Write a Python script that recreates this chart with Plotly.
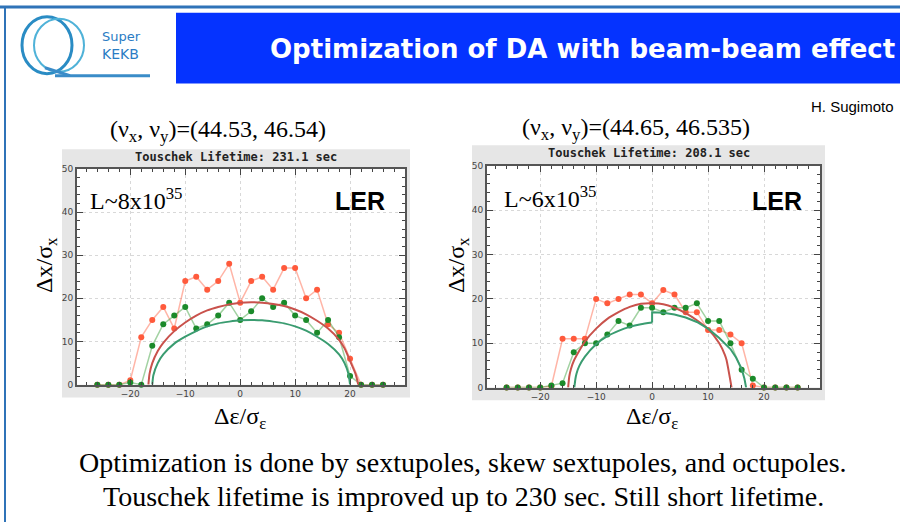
import plotly.graph_objects as go

W, H = 900, 527

# ---------------- data ----------------
pts_x = [-26, -24, -22, -20, -18, -16, -14, -12, -10, -8, -6, -4, -2, 0,
         2, 4, 6, 8, 10, 12, 14, 16, 18, 20, 22, 24, 26]

left_red = [0, 0, 0, 1, 11, 15, 18, 13, 24, 25, 22, 24, 28, 19,
            24, 25, 22, 27, 27, 20, 22, 14, 12, 6, 0, 0, 0]
left_green = [0, 0, 0, 0.5, 0, 9, 14, 16, 18, 13, 14, 16, 19, 15,
              17, 20, 18, 19, 16, 15, 12, 15, 11, 2, 0, 0, 0]

right_red = [0, 0, 0, 0, 0.3, 11, 11, 11, 20, 19, 20, 21, 21, 19,
             22, 21, 17, 17, 13, 13, 12, 10, 0.5, 0, 0, 0, 0]
right_green = [0, 0, 0, 0, 0.5, 1, 8, 10, 10, 12, 15, 14, 18, 18,
               17, 18, 18, 19, 15, 15, 10, 4, 2, 0, 0, 0, 0]

# fitted curves
lc_red_x = [-16.7, -16.5, -16, -15, -14, -12, -10, -8, -6, -4, -2, 0, 2, 4, 6, 8,
            10, 12, 14, 16, 18, 19, 20, 21, 21.5]
lc_red_y = [0, 2.5, 5, 7.8, 9.7, 12.4, 14.4, 16, 17.2, 18, 18.6, 19, 19.1, 19, 18.7,
            18.2, 17.4, 16.3, 14.8, 13, 10.4, 8.4, 5.5, 2.5, 0]
lc_grn_x = [-16, -15.8, -15, -14, -12, -10, -8, -6, -4, -2, 0, 2, 4, 6, 8,
            10, 12, 14, 16, 18, 19, 19.7, 20]
lc_grn_y = [0, 2.2, 5, 7, 9.5, 11.1, 12.4, 13.5, 14.2, 14.6, 14.9, 15, 14.9, 14.6, 14.2,
            13.5, 12.5, 11.1, 9.4, 7, 5, 2.5, 0]

rc_red_x = [-15, -14.8, -14.5, -14, -12, -10, -8, -6, -4, -2, 0, 2, 4, 6, 8,
            10, 12, 13, 13.3, 14.2]
rc_red_y = [0, 2.5, 4.2, 6, 10.4, 13.3, 15.5, 17, 18.2, 18.9, 19, 18.8, 18, 16.8, 15.2,
            13.2, 10, 7.4, 6.2, 0]
rc_grn_a_x = [-13.9, -13.7, -13.5, -13, -12, -10, -8, -6, -4, -2, 0]
rc_grn_a_y = [0, 2, 3.2, 4.9, 7, 9.8, 11.6, 12.8, 13.7, 14.3, 14.7]
rc_grn_b_x = [0, 0, 2, 4, 6, 8, 10, 12, 14, 15, 16, 16.5, 16.8]
rc_grn_b_y = [14.7, 17, 16.9, 16.5, 15.8, 14.8, 13.3, 11.2, 8.7, 6.8, 4.2, 2, 0]

x_tickvals = [-20, -10, 0, 10, 20]
y_tickvals = [0, 10, 20, 30, 40, 50]

lifetimes = ["Touschek Lifetime: 231.1 sec", "Touschek Lifetime: 208.1 sec"]
tunes = ["(ν<sub>x</sub>, ν<sub>y</sub>)=(44.53, 46.54)",
         "(ν<sub>x</sub>, ν<sub>y</sub>)=(44.65, 46.535)"]
lumis = ["L~8x10<sup>35</sup>", "L~6x10<sup>35</sup>"]

# ---------------- helpers ----------------
def px(x):
    return x / W

def py(y):
    return 1 - y / H

RED_PT = "#ff5a3c"
RED_LN = "rgba(255,120,95,0.55)"
GRN_PT = "#1b8a2a"
GRN_LN = "rgba(70,165,70,0.5)"
RED_CURVE = "#c9524c"
GRN_CURVE = "#3a9c70"

fig = go.Figure()

def add_pts(xs, ys, xa, ya, pc, lc):
    fig.add_trace(go.Scatter(x=xs, y=ys, xaxis=xa, yaxis=ya, mode="lines+markers",
                             line=dict(color=lc, width=1.5),
                             marker=dict(color=pc, size=6),
                             cliponaxis=False, showlegend=False, hoverinfo="skip"))

def add_curve(xs, ys, xa, ya, c):
    fig.add_trace(go.Scatter(x=xs, y=ys, xaxis=xa, yaxis=ya, mode="lines",
                             line=dict(color=c, width=2, shape="spline", smoothing=0.6),
                             showlegend=False, hoverinfo="skip"))

# left chart
add_pts(pts_x, left_red, "x", "y", RED_PT, RED_LN)
add_pts(pts_x, left_green, "x", "y", GRN_PT, GRN_LN)
add_curve(lc_red_x, lc_red_y, "x", "y", RED_CURVE)
add_curve(lc_grn_x, lc_grn_y, "x", "y", GRN_CURVE)

# right chart
add_pts(pts_x, right_red, "x2", "y2", RED_PT, RED_LN)
add_pts(pts_x, right_green, "x2", "y2", GRN_PT, GRN_LN)
add_curve(rc_red_x, rc_red_y, "x2", "y2", RED_CURVE)
add_curve(rc_grn_a_x, rc_grn_a_y, "x2", "y2", GRN_CURVE)
fig.add_trace(go.Scatter(x=rc_grn_b_x, y=rc_grn_b_y, xaxis="x2", yaxis="y2", mode="lines",
                         line=dict(color=GRN_CURVE, width=2), showlegend=False,
                         hoverinfo="skip"))

def xaxis_cfg(dom, rng, anchor):
    return dict(domain=dom, range=rng, anchor=anchor, tickvals=x_tickvals,
                ticks="inside", ticklen=6, tickwidth=1, tickcolor="#444",
                minor=dict(ticks="inside", ticklen=3, dtick=2, tick0=0, tickcolor="#444",
                           showgrid=False),
                showline=True, linecolor="#555", linewidth=2, mirror="ticks",
                showgrid=True, gridcolor="#d8d8d8", griddash="dot", gridwidth=1,
                zeroline=False,
                tickfont=dict(family="DejaVu Sans", size=9, color="#444"))

def yaxis_cfg(dom, anchor):
    return dict(domain=dom, range=[0, 50], anchor=anchor, tickvals=y_tickvals,
                ticks="inside", ticklen=6, tickwidth=1, tickcolor="#444",
                minor=dict(ticks="inside", ticklen=3, dtick=2, tick0=0, tickcolor="#444",
                           showgrid=False),
                showline=True, linecolor="#555", linewidth=2, mirror="ticks",
                showgrid=True, gridcolor="#d8d8d8", griddash="dot", gridwidth=1,
                zeroline=False,
                tickfont=dict(family="DejaVu Sans", size=9, color="#444"))

# geometry in pixels
L_plot = (77, 405, 167, 387)   # x0, x1, ytop, ybottom
R_plot = (487, 820, 164, 390)
L_frame = (62, 410, 147, 400)
R_frame = (472, 825, 143, 403)

fig.update_layout(
    width=W, height=H, margin=dict(l=0, r=0, t=0, b=0),
    paper_bgcolor="white", plot_bgcolor="white",
    xaxis=xaxis_cfg([px(L_plot[0]), px(L_plot[1])], [-29.7, 30], "y"),
    yaxis=yaxis_cfg([py(L_plot[3]), py(L_plot[2])], "x"),
    xaxis2=xaxis_cfg([px(R_plot[0]), px(R_plot[1])], [-29.5, 30], "y2"),
    yaxis2=yaxis_cfg([py(R_plot[3]), py(R_plot[2])], "x2"),
)

shapes = []
# slide decorations
shapes.append(dict(type="line", xref="paper", yref="paper", x0=0, x1=1, y0=py(2), y1=py(2),
                   line=dict(color="#2f73b8", width=3)))
shapes.append(dict(type="line", xref="paper", yref="paper", x0=px(5), x1=px(5), y0=py(2), y1=0,
                   line=dict(color="#2f73b8", width=2)))
shapes.append(dict(type="rect", xref="paper", yref="paper", x0=px(176), x1=1, y0=py(80), y1=py(8),
                   fillcolor="#0533ff", line=dict(width=0)))
# logo
shapes.append(dict(type="circle", xref="paper", yref="paper", x0=px(22), x1=px(72), y0=py(70), y1=py(12),
                   line=dict(color="#2a8cc4", width=3)))
shapes.append(dict(type="circle", xref="paper", yref="paper", x0=px(34), x1=px(84), y0=py(68), y1=py(14),
                   line=dict(color="#4fb2d8", width=2)))
shapes.append(dict(type="line", xref="paper", yref="paper", x0=px(55), x1=px(150), y0=py(72), y1=py(72),
                   line=dict(color="#3a8cc8", width=3)))
shapes.append(dict(type="line", xref="paper", yref="paper", x0=px(45), x1=px(70), y0=py(64), y1=py(72),
                   line=dict(color="#3a8cc8", width=3)))
# chart frames (gray) with white plot areas
for (fx0, fx1, fy0, fy1), (p0, p1, pt, pb) in ((L_frame, L_plot), (R_frame, R_plot)):
    shapes.append(dict(type="rect", xref="paper", yref="paper", x0=px(fx0), x1=px(fx1),
                       y0=py(fy1), y1=py(fy0), fillcolor="#e6e6e6", line=dict(width=0),
                       layer="below"))
    shapes.append(dict(type="rect", xref="paper", yref="paper", x0=px(p0), x1=px(p1),
                       y0=py(pb), y1=py(pt), fillcolor="white", line=dict(width=0),
                       layer="below"))
fig.update_layout(shapes=shapes)

ann = []
def text(x, y, s, size, family, color="black", xanchor="center", yanchor="middle", angle=0):
    ann.append(dict(x=px(x), y=py(y), xref="paper", yref="paper", text=s, showarrow=False,
                    xanchor=xanchor, yanchor=yanchor, textangle=angle,
                    font=dict(size=size, family=family, color=color)))

text(897, 45, "<b>Optimization of DA with beam-beam effect</b>", 26, "DejaVu Sans", "white",
     xanchor="right")
text(100, 32, "Super", 13, "DejaVu Sans", "#2a7cc4", xanchor="left")
text(100, 50, "KEKB", 14, "DejaVu Sans", "#2a7cc4", xanchor="left")
text(896, 103, "H. Sugimoto", 15, "Liberation Sans", "black", xanchor="right")

for i, (frame, plot) in enumerate(((L_frame, L_plot), (R_frame, R_plot))):
    cx = (frame[0] + frame[1]) / 2
    text(cx, frame[2] + 8, "<b>" + lifetimes[i] + "</b>", 12, "DejaVu Sans Mono", "#222")

text(218, 128, tunes[0], 24, "Liberation Serif")
text(636, 126, tunes[1], 24, "Liberation Serif")

text(88, 198, lumis[0], 24, "Liberation Serif", xanchor="left")
text(502, 196, lumis[1], 24, "Liberation Serif", xanchor="left")
text(360, 200, "<b>LER</b>", 25, "Liberation Sans")
text(777, 200, "<b>LER</b>", 25, "Liberation Sans")

text(46, 265, "Δx/σ<sub>x</sub>", 24, "Liberation Serif", angle=-90)
text(458, 265, "Δx/σ<sub>x</sub>", 24, "Liberation Serif", angle=-90)
text(240, 421, "Δε/σ<sub>ε</sub>", 24, "Liberation Serif")
text(652, 421, "Δε/σ<sub>ε</sub>", 24, "Liberation Serif")

text(463, 466, "Optimization is done by sextupoles, skew sextupoles, and octupoles.", 28,
     "Liberation Serif")
text(463, 501, "Touschek lifetime is improved up to 230 sec. Still short lifetime.", 28,
     "Liberation Serif")

fig.update_layout(annotations=ann)

fig.write_html("out.html")
